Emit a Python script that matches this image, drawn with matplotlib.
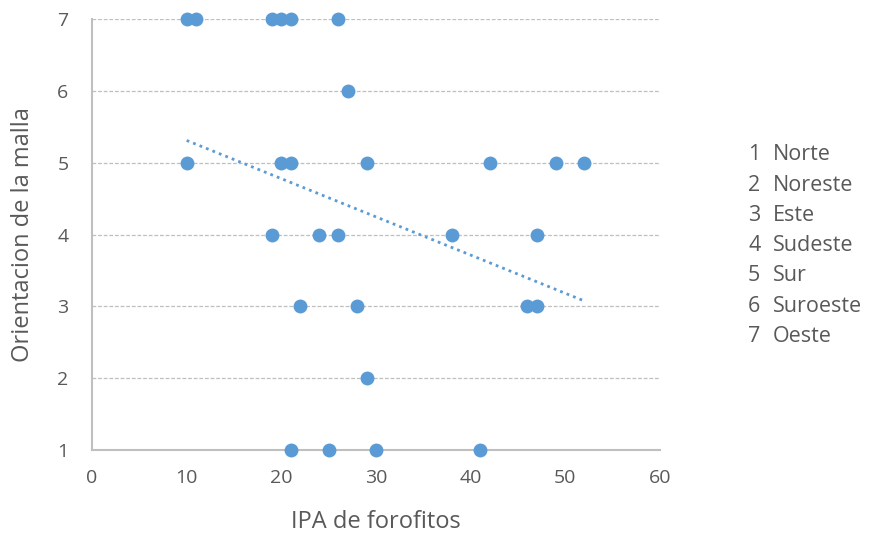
import numpy as np
import matplotlib.pyplot as plt

# IPA de forofitos vs orientacion de la malla
ipa = [10, 11, 19, 20, 21, 26,
       27,
       10, 20, 21, 29, 42, 49, 52,
       19, 24, 26, 38, 47,
       22, 28, 46, 47,
       29,
       21, 25, 30, 41]
orient = [7, 7, 7, 7, 7, 7,
          6,
          5, 5, 5, 5, 5, 5, 5,
          4, 4, 4, 4, 4,
          3, 3, 3, 3,
          2,
          1, 1, 1, 1]

codes = [1, 2, 3, 4, 5, 6, 7]
names = ["Norte", "Noreste", "Este", "Sudeste", "Sur", "Suroeste", "Oeste"]

plt.rcParams['font.family'] = ['Open Sans', 'DejaVu Sans']
blue = "#5B9BD5"
gray = "#595959"

fig = plt.figure(figsize=(8.71, 5.38), dpi=100)
ax = fig.add_axes([92 / 871, 1 - 450 / 538, (660 - 92) / 871, (450 - 19) / 538])

ax.scatter(ipa, orient, s=100, color=blue, zorder=3, clip_on=False, linewidths=0)

# linear trendline (least squares), drawn over the data range
slope, inter = np.polyfit(ipa, orient, 1)
xs = np.array([min(ipa), max(ipa)])
ax.plot(xs, slope * xs + inter, color=blue, lw=2, linestyle=(0, (1, 1.5)),
        dash_capstyle='butt', zorder=2)

ax.set_xlim(0, 60)
ax.set_ylim(1, 7)
ax.set_xticks(range(0, 61, 10))
ax.set_yticks(codes)
ax.yaxis.grid(True, color="#BFBFBF", linestyle=(0, (3, 1.5)), lw=0.9)
ax.set_axisbelow(True)

for s in ['top', 'right']:
    ax.spines[s].set_visible(False)
ax.spines['left'].set_color("#BFBFBF")
ax.spines['bottom'].set_color("#BFBFBF")
ax.spines['left'].set_linewidth(1.5)
ax.spines['bottom'].set_linewidth(1.5)

ax.tick_params(axis='both', length=0, labelsize=14, colors=gray)
ax.tick_params(axis='x', pad=14)
ax.tick_params(axis='y', pad=17)

ax.set_xlabel("IPA de forofitos", fontsize=17, color=gray, va='center')
ax.set_ylabel("Orientacion de la malla", fontsize=17, color=gray, va='center')
ax.xaxis.set_label_coords(0.5, (450 - 522) / 431)
ax.yaxis.set_label_coords((23 - 92) / 568, 0.5)

# legend of orientation codes
for i, (c, n) in enumerate(zip(codes, names)):
    yy = 1 - (155 + i * 30.2) / 538
    fig.text(748 / 871, yy, str(c), fontsize=15.5, color=gray, va='center')
    fig.text(773 / 871, yy, n, fontsize=15.5, color=gray, va='center')

fig.savefig("out.png", dpi=100)
